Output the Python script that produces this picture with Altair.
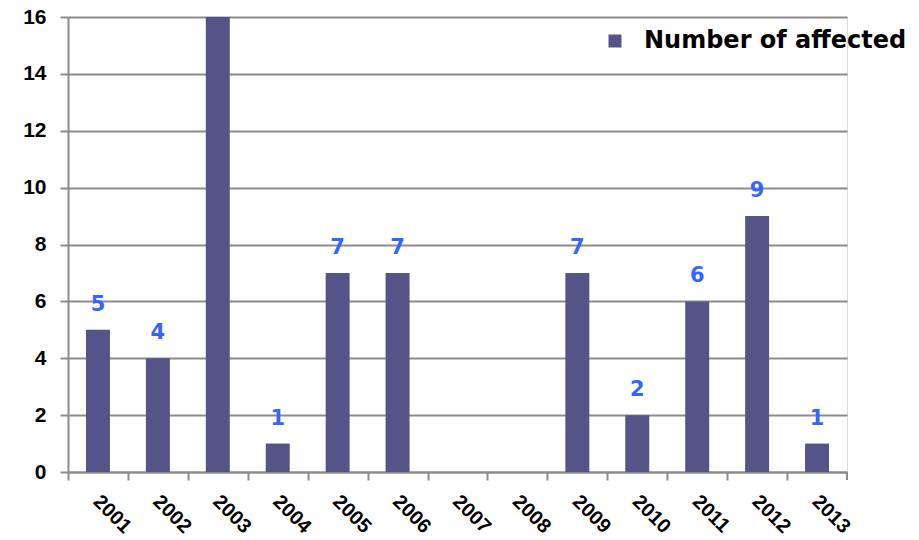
import altair as alt
import pandas as pd

years = ["2001", "2002", "2003", "2004", "2005", "2006", "2007",
         "2008", "2009", "2010", "2011", "2012", "2013"]
affected = [5, 4, 16, 1, 7, 7, 0, 0, 7, 2, 6, 9, 1]
series_name = "Number of affected"
y_max = 16

df = pd.DataFrame({"year": years, "value": affected, "series": series_name})

W, H = 779, 455
BAND = W / len(years)
GRID = "#8c8c8c"
BAR = "#545489"
AXIS_FONT = "Liberation Sans"

x_enc = alt.X(
    "year:N",
    sort=years,
    scale=alt.Scale(paddingInner=0.6, paddingOuter=0.3),
    axis=alt.Axis(
        title=None,
        labelAngle=45,
        labelAlign="left",
        labelBaseline="top",
        labelFont=AXIS_FONT,
        labelFontWeight="bold",
        labelFontSize=20,
        labelColor="black",
        labelPadding=11,
        labelOffset=BAND / 2 + 5,
        tickOffset=-BAND / 2,
        tickSize=8,
        tickWidth=2,
        tickColor=GRID,
        domainColor=GRID,
        domainWidth=2,
        grid=False,
    ),
)

y_enc = alt.Y(
    "value:Q",
    scale=alt.Scale(domain=[0, y_max], nice=False),
    axis=alt.Axis(
        title=None,
        values=list(range(0, y_max + 1, 2)),
        labelFont=AXIS_FONT,
        labelFontWeight="bold",
        labelFontSize=21,
        labelColor="black",
        labelPadding=14,
        tickSize=8,
        tickWidth=2,
        tickColor=GRID,
        domainColor=GRID,
        domainWidth=2,
        grid=True,
        gridColor=GRID,
        gridWidth=2,
    ),
)

bars = alt.Chart(df).mark_bar().encode(
    x=x_enc,
    y=y_enc,
    color=alt.Color(
        "series:N",
        scale=alt.Scale(range=[BAR]),
        legend=alt.Legend(
            title=None,
            orient="none",
            legendX=535,
            legendY=12,
            symbolType="square",
            symbolSize=169,
            symbolStrokeWidth=0,
            labelFont="DejaVu Sans",
            labelFontWeight="bold",
            labelFontSize=24,
            labelColor="black",
            labelOffset=17,
            labelLimit=400,
        ),
    ),
)

# value labels above the bars that fit inside the value axis
labels = alt.Chart(df).transform_filter(
    f"datum.value > 0 && datum.value < {y_max}"
).mark_text(
    font="DejaVu Sans",
    fontWeight="bold",
    fontSize=21,
    color="#3366ff",
    baseline="alphabetic",
    dy=-19,
).encode(
    x=alt.X("year:N", sort=years),
    y=alt.Y("value:Q"),
    text=alt.Text("value:Q"),
)

# closing tick at the right end of the category axis
end_tick = alt.Chart(df).mark_rule(color=GRID, strokeWidth=2).encode(
    x=alt.value(W), y=alt.value(H), y2=alt.value(H + 8)
)

chart = alt.layer(bars, labels, end_tick).properties(
    width=W,
    height=H,
    autosize=alt.AutoSizeParams(type="none"),
    padding={"left": 68, "top": 17, "right": 72, "bottom": 68},
).configure_view(stroke=None).configure(background="white")

chart.save("out.html", embed_options={"renderer": "svg", "actions": False})
